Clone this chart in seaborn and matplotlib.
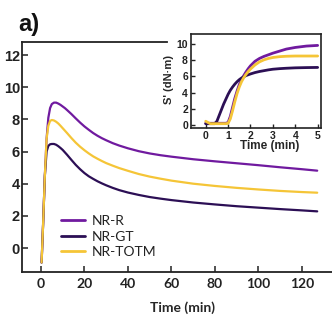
import numpy as np
import pandas as pd
import matplotlib
matplotlib.use("Agg")
import matplotlib.pyplot as plt
import seaborn as sns

# ---- torque vs. time, long run (main axes) ----
time_main = [0.3, 1.0, 1.8, 2.6, 3.4, 4.2, 5.0, 6.0, 7.0, 8.0, 9.0, 10, 11,
             12, 14, 16, 18, 20, 22, 24, 26, 28, 30, 33, 36, 40, 45, 50, 55,
             60, 70, 80, 90, 100, 110, 120, 127]
nr_r_main = [-0.9, 1.5, 4.5, 6.8, 8.1, 8.7, 8.95, 9.04, 9.04, 8.98, 8.9, 8.8,
             8.7, 8.58, 8.33, 8.06, 7.8, 7.56, 7.35, 7.15, 6.98, 6.83, 6.7,
             6.52, 6.37, 6.2, 6.02, 5.88, 5.77, 5.68, 5.52, 5.39, 5.27, 5.15,
             5.02, 4.9, 4.81]
nr_gt_main = [-0.9, 1.5, 4.5, 6.0, 6.35, 6.45, 6.47, 6.47, 6.42, 6.33, 6.22,
              6.1, 5.95, 5.8, 5.48, 5.17, 4.9, 4.66, 4.46, 4.3, 4.15, 4.02,
              3.9, 3.74, 3.6, 3.45, 3.3, 3.17, 3.07, 2.98, 2.83, 2.71, 2.6,
              2.51, 2.42, 2.34, 2.28]
nr_totm_main = [-0.9, 1.5, 4.5, 6.8, 7.6, 7.9, 7.96, 7.93, 7.85, 7.74, 7.6,
                7.45, 7.3, 7.15, 6.84, 6.55, 6.3, 6.08, 5.88, 5.7, 5.55, 5.41,
                5.28, 5.12, 4.97, 4.8, 4.6, 4.44, 4.31, 4.19, 4.0, 3.86, 3.74,
                3.64, 3.55, 3.48, 3.44]

# ---- torque vs. time, first 5 minutes (inset) ----
time_inset = [0.0, 0.2, 0.4, 0.5, 0.6, 0.7, 0.8, 0.9, 1.0, 1.1, 1.2, 1.3, 1.4,
              1.5, 1.6, 1.7, 1.8, 1.9, 2.0, 2.2, 2.4, 2.6, 2.8, 3.0, 3.3, 3.6,
              4.0, 4.5, 5.0]
nr_r_inset = [0.25, 0.25, 0.25, 0.25, 0.25, 0.25, 0.25, 0.25, 0.35, 1.1, 2.2,
              3.3, 4.2, 5.0, 5.6, 6.1, 6.55, 6.95, 7.3, 7.85, 8.2, 8.45, 8.65,
              8.85, 9.1, 9.35, 9.55, 9.72, 9.8]
nr_gt_inset = [0.2, 0.2, 0.2, 0.5, 1.2, 1.9, 2.6, 3.2, 3.8, 4.3, 4.7, 5.05,
               5.35, 5.6, 5.8, 5.95, 6.1, 6.2, 6.3, 6.47, 6.6, 6.7, 6.8, 6.88,
               6.95, 7.0, 7.05, 7.08, 7.1]
nr_totm_inset = [0.5, 0.2, 0.2, 0.2, 0.2, 0.2, 0.2, 0.2, 0.25, 0.8, 1.8, 2.9,
                 3.9, 4.7, 5.35, 5.85, 6.25, 6.6, 6.9, 7.4, 7.78, 8.03, 8.2,
                 8.32, 8.42, 8.47, 8.5, 8.5, 8.5]

series_names = ["NR-R", "NR-GT", "NR-TOTM"]
palette = {"NR-R": "#701a9f", "NR-GT": "#2c0f55", "NR-TOTM": "#f5c537"}


def long_form(t, cols):
    frames = [pd.DataFrame({"Time": t, "S": v, "Sample": n})
              for n, v in zip(series_names, cols)]
    return pd.concat(frames, ignore_index=True)


df_main = long_form(time_main, [nr_r_main, nr_gt_main, nr_totm_main])
df_inset = long_form(time_inset, [nr_r_inset, nr_gt_inset, nr_totm_inset])

sns.set_theme(style="white")
plt.rcParams["font.family"] = ["Lato", "DejaVu Sans"]

fig = plt.figure(figsize=(3.32, 3.33), dpi=100)
fig.patch.set_facecolor("white")

# main axes
ax = fig.add_axes([0.0663, 0.1832, 0.9337, 0.6907])
sns.lineplot(data=df_main, x="Time", y="S", hue="Sample", hue_order=series_names,
             palette=palette, estimator=None, sort=False, linewidth=1.6, ax=ax)
ax.set_xlim(-8.7, 133.8)
ax.set_ylim(-1.49, 12.81)
ax.set_xticks([0, 20, 40, 60, 80, 100, 120])
ax.set_yticks([0, 2, 4, 6, 8, 10, 12])
ax.set_ylabel("")
ax.set_xlabel("Time (min)", fontsize=10, fontweight="bold", family="Lato")
ax.xaxis.set_label_coords(0.518, -0.157)
ax.xaxis.label.set_va("center")

for side in ["left", "bottom", "top"]:
    ax.spines[side].set_visible(True)
    ax.spines[side].set_color("#222222")
    ax.spines[side].set_linewidth(1.3)
ax.spines["right"].set_visible(False)
ax.spines["top"].set_bounds(-8.7, 57.8)

ax.tick_params(axis="x", direction="in", length=4, width=1.1, pad=4,
               labelsize=10, colors="#222222", bottom=True)
ax.tick_params(axis="y", direction="in", length=4, width=1.1, pad=1.5,
               labelsize=10.5, colors="#222222", left=True)
for lab in ax.get_xticklabels():
    lab.set_fontweight("bold")
    lab.set_family("Lato")
for lab in ax.get_yticklabels():
    lab.set_fontweight("bold")
    lab.set_family("Liberation Sans")

leg = ax.legend(loc="center left", bbox_to_anchor=(0.1837, 0.289),
                bbox_transform=fig.transFigure, frameon=False, fontsize=10,
                handlelength=1.75, handletextpad=0.5, labelspacing=0.25,
                borderpad=0, borderaxespad=0)
for line in leg.get_lines():
    line.set_linewidth(2.0)
for txt in leg.get_texts():
    txt.set_family("Lato")
    txt.set_color("#222222")

# inset axes
ins = fig.add_axes([0.5744, 0.6156, 0.3925, 0.2823])
sns.lineplot(data=df_inset, x="Time", y="S", hue="Sample", hue_order=series_names,
             palette=palette, estimator=None, sort=False, linewidth=2.0, ax=ins,
             legend=False)
ins.set_xlim(-0.67, 5.15)
ins.set_ylim(-0.33, 11.2)
ins.set_xticks([0, 1, 2, 3, 4, 5])
ins.set_yticks([0, 2, 4, 6, 8, 10])
for side in ins.spines.values():
    side.set_visible(True)
    side.set_color("#222222")
    side.set_linewidth(1.2)
ins.tick_params(axis="both", direction="in", length=3, width=1.0, pad=2,
                labelsize=7.5, colors="#222222", left=True, bottom=True)
for lab in ins.get_xticklabels() + ins.get_yticklabels():
    lab.set_fontweight("bold")
    lab.set_family("Liberation Sans")
ins.set_xlabel("Time (min)", fontsize=8.5, fontweight="bold",
               family="Liberation Sans")
ins.set_ylabel("S' (dN·m)", fontsize=8, fontweight="bold",
               family="Liberation Sans")
ins.xaxis.set_label_coords(0.605, -0.19)
ins.xaxis.label.set_va("center")
ins.yaxis.set_label_coords(-0.163, 0.516)
ins.yaxis.label.set_va("center")

fig.text(0.054, 0.925, "a)", fontsize=17, fontweight="bold",
         family="Liberation Sans", ha="left", va="center", color="#111111")

fig.savefig("out.png", dpi=100, facecolor="white")
